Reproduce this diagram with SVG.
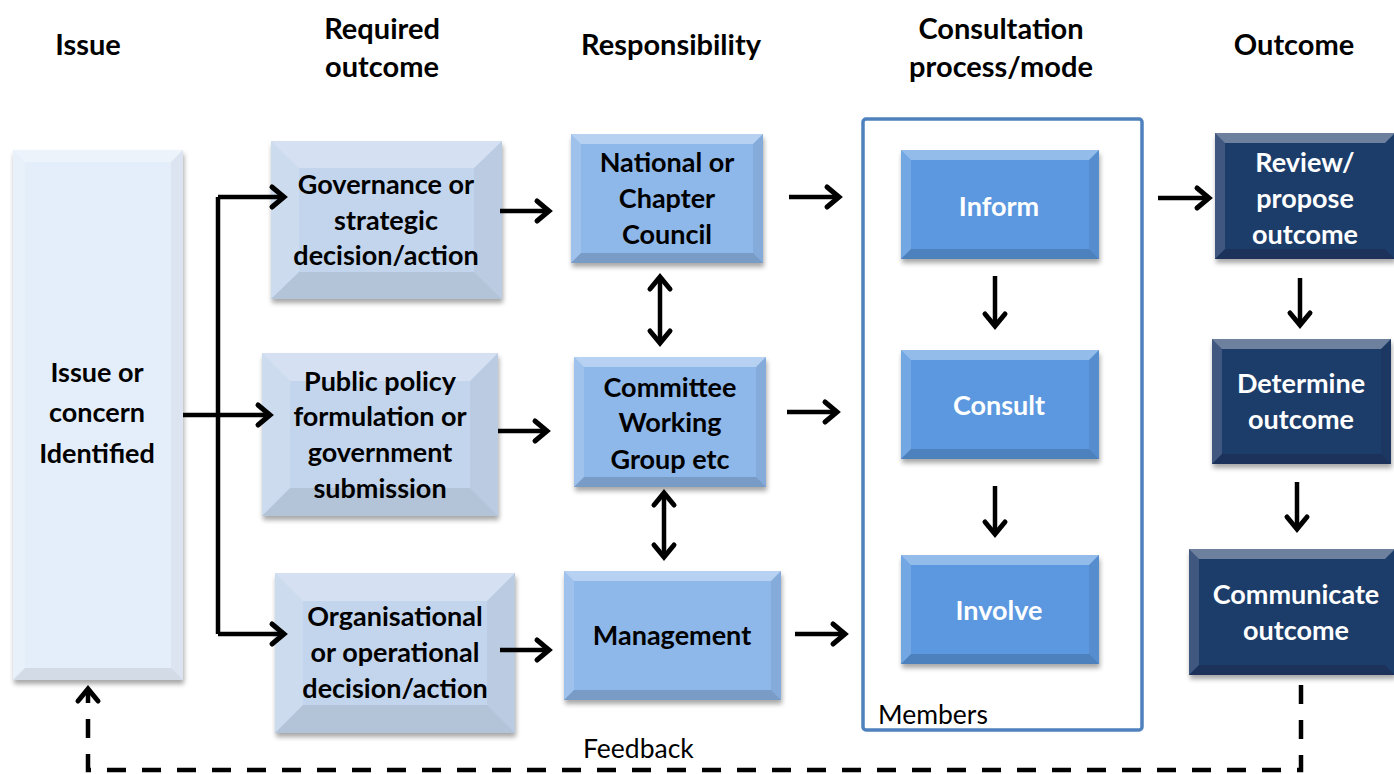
<svg xmlns="http://www.w3.org/2000/svg" width="1394" height="774" viewBox="0 0 1394 774">
<defs>
<style>
.h{font-family:Lato,"Open Sans","Liberation Sans",sans-serif;font-weight:bold;font-size:29px;fill:#000;text-anchor:middle}
.t{font-family:Lato,"Open Sans","Liberation Sans",sans-serif;font-weight:bold;font-size:27px;fill:#000;text-anchor:middle}
.w{fill:#fff}
.r{font-family:Lato,"Open Sans","Liberation Sans",sans-serif;font-size:26.5px;fill:#000}
.c{stroke:#000;stroke-width:4.5;fill:none}
.d{stroke:#000;stroke-width:4.5;fill:none;stroke-dasharray:19,16}
.bt{fill:#fff;opacity:0.35}
.bl{fill:#fff;opacity:0.15}
.br{fill:#000;opacity:0.07}
.bb{fill:#000;opacity:0.15}
.lt .bt{opacity:0.3}
.lt .br{opacity:0.04}
.lt .bb{opacity:0.08}
</style>
<filter id="sh" x="-10%" y="-10%" width="125%" height="125%">
<feGaussianBlur in="SourceAlpha" stdDeviation="2.5"/>
<feOffset dx="1" dy="4" result="o"/>
<feComponentTransfer><feFuncA type="linear" slope="0.35"/></feComponentTransfer>
<feMerge><feMergeNode/><feMergeNode in="SourceGraphic"/></feMerge>
</filter>
<marker id="ah" markerUnits="userSpaceOnUse" markerWidth="30" markerHeight="30" viewBox="-16 -15 20 30" refX="0" refY="0" orient="auto-start-reverse">
<path d="M-12,-10 L0,0 L-12,10" stroke="#000" stroke-width="5" fill="none" stroke-linecap="round" stroke-linejoin="miter"/>
</marker>
</defs>
<rect width="1394" height="774" fill="#fff"/>

<g id="headers">
<text class="h" x="88" y="55">Issue</text>
<text class="h" x="382" y="39">Required</text>
<text class="h" x="382" y="77">outcome</text>
<text class="h" x="671" y="55">Responsibility</text>
<text class="h" x="1001" y="39">Consultation</text>
<text class="h" x="1001" y="77">process/mode</text>
<text class="h" x="1294" y="55">Outcome</text>
</g>

<g id="container">
<rect x="863" y="119" width="279" height="611" rx="3" fill="#fff" stroke="#4f81bd" stroke-width="3.5"/>
<text class="r" x="878" y="724">Members</text>
</g>

<g id="n-issue" class="lt" filter="url(#sh)">
<rect x="13" y="150" width="170" height="530" fill="#e4eefa"/>
<polygon class="bt" points="13,150 183,150 171,162 25,162"/>
<polygon class="bl" points="13,150 25,162 25,668 13,680"/>
<polygon class="br" points="183,150 183,680 171,668 171,162"/>
<polygon class="bb" points="13,680 183,680 171,668 25,668"/>
</g>
<g id="t-issue">
<text class="t" x="97" y="382">Issue or</text>
<text class="t" x="97" y="422">concern</text>
<text class="t" x="97" y="463">Identified</text>
</g>

<g id="n-gov" class="lt" filter="url(#sh)">
<rect x="271" y="141" width="231" height="158" fill="#c3d5ec"/>
<polygon class="bt" points="271,141 502,141 474,168 299,168"/>
<polygon class="bl" points="271,141 299,168 299,272 271,299"/>
<polygon class="br" points="502,141 502,299 474,272 474,168"/>
<polygon class="bb" points="271,299 502,299 474,272 299,272"/>
</g>
<g id="t-gov">
<text class="t" x="386" y="194">Governance or</text>
<text class="t" x="386" y="230">strategic</text>
<text class="t" x="386" y="265">decision/action</text>
</g>

<g id="n-pub" class="lt" filter="url(#sh)">
<rect x="262" y="353" width="236" height="163" fill="#c3d5ec"/>
<polygon class="bt" points="262,353 498,353 470,381 290,381"/>
<polygon class="bl" points="262,353 290,381 290,488 262,516"/>
<polygon class="br" points="498,353 498,516 470,488 470,381"/>
<polygon class="bb" points="262,516 498,516 470,488 290,488"/>
</g>
<g id="t-pub">
<text class="t" x="380" y="391">Public policy</text>
<text class="t" x="380" y="426">formulation or</text>
<text class="t" x="380" y="462">government</text>
<text class="t" x="380" y="498">submission</text>
</g>

<g id="n-org" class="lt" filter="url(#sh)">
<rect x="275" y="573" width="240" height="160" fill="#c3d5ec"/>
<polygon class="bt" points="275,573 515,573 487,601 303,601"/>
<polygon class="bl" points="275,573 303,601 303,705 275,733"/>
<polygon class="br" points="515,573 515,733 487,705 487,601"/>
<polygon class="bb" points="275,733 515,733 487,705 303,705"/>
</g>
<g id="t-org">
<text class="t" x="395" y="626">Organisational</text>
<text class="t" x="395" y="662">or operational</text>
<text class="t" x="395" y="698">decision/action</text>
</g>

<g id="n-nat" filter="url(#sh)">
<rect x="571" y="134" width="192" height="129" fill="#8fb8ea"/>
<polygon class="bt" points="571,134 763,134 753,144 581,144"/>
<polygon class="bl" points="571,134 581,144 581,253 571,263"/>
<polygon class="br" points="763,134 763,263 753,253 753,144"/>
<polygon class="bb" points="571,263 763,263 753,253 581,253"/>
</g>
<g id="t-nat">
<text class="t" x="667" y="172">National or</text>
<text class="t" x="667" y="208">Chapter</text>
<text class="t" x="667" y="244">Council</text>
</g>

<g id="n-com" filter="url(#sh)">
<rect x="574" y="357" width="192" height="130" fill="#8fb8ea"/>
<polygon class="bt" points="574,357 766,357 756,367 584,367"/>
<polygon class="bl" points="574,357 584,367 584,477 574,487"/>
<polygon class="br" points="766,357 766,487 756,477 756,367"/>
<polygon class="bb" points="574,487 766,487 756,477 584,477"/>
</g>
<g id="t-com">
<text class="t" x="670" y="397">Committee</text>
<text class="t" x="670" y="432">Working</text>
<text class="t" x="670" y="469">Group etc</text>
</g>

<g id="n-mgmt" filter="url(#sh)">
<rect x="564" y="571" width="217" height="129" fill="#8fb8ea"/>
<polygon class="bt" points="564,571 781,571 771,581 574,581"/>
<polygon class="bl" points="564,571 574,581 574,690 564,700"/>
<polygon class="br" points="781,571 781,700 771,690 771,581"/>
<polygon class="bb" points="564,700 781,700 771,690 574,690"/>
</g>
<g id="t-mgmt">
<text class="t" x="672" y="645">Management</text>
</g>

<g id="n-inform" filter="url(#sh)">
<rect x="901" y="150" width="198" height="109" fill="#5b98df"/>
<polygon class="bt" points="901,150 1099,150 1089,160 911,160"/>
<polygon class="bl" points="901,150 911,160 911,249 901,259"/>
<polygon class="br" points="1099,150 1099,259 1089,249 1089,160"/>
<polygon class="bb" points="901,259 1099,259 1089,249 911,249"/>
</g>
<text id="t-inform" class="t w" x="999" y="216">Inform</text>

<g id="n-consult" filter="url(#sh)">
<rect x="901" y="350" width="198" height="109" fill="#5b98df"/>
<polygon class="bt" points="901,350 1099,350 1089,360 911,360"/>
<polygon class="bl" points="901,350 911,360 911,449 901,459"/>
<polygon class="br" points="1099,350 1099,459 1089,449 1089,360"/>
<polygon class="bb" points="901,459 1099,459 1089,449 911,449"/>
</g>
<text id="t-consult" class="t w" x="999" y="415">Consult</text>

<g id="n-involve" filter="url(#sh)">
<rect x="901" y="555" width="198" height="109" fill="#5b98df"/>
<polygon class="bt" points="901,555 1099,555 1089,565 911,565"/>
<polygon class="bl" points="901,555 911,565 911,654 901,664"/>
<polygon class="br" points="1099,555 1099,664 1089,654 1089,565"/>
<polygon class="bb" points="901,664 1099,664 1089,654 911,654"/>
</g>
<text id="t-involve" class="t w" x="999" y="620">Involve</text>

<g id="n-review" filter="url(#sh)">
<rect x="1215" y="133" width="180" height="126" fill="#1f3d6a"/>
<polygon class="bt" points="1215,133 1395,133 1385,143 1225,143"/>
<polygon class="bl" points="1215,133 1225,143 1225,249 1215,259"/>
<polygon class="bb" points="1215,259 1395,259 1385,249 1225,249"/>
</g>
<g id="t-review">
<text class="t w" x="1305" y="172">Review/</text>
<text class="t w" x="1305" y="208">propose</text>
<text class="t w" x="1305" y="244">outcome</text>
</g>

<g id="n-determine" filter="url(#sh)">
<rect x="1212" y="339" width="179" height="125" fill="#1f3d6a"/>
<polygon class="bt" points="1212,339 1391,339 1381,349 1222,349"/>
<polygon class="bl" points="1212,339 1222,349 1222,454 1212,464"/>
<polygon class="br" points="1391,339 1391,464 1381,454 1381,349"/>
<polygon class="bb" points="1212,464 1391,464 1381,454 1222,454"/>
</g>
<g id="t-determine">
<text class="t w" x="1301" y="393">Determine</text>
<text class="t w" x="1301" y="429">outcome</text>
</g>

<g id="n-communicate" filter="url(#sh)">
<rect x="1189" y="549" width="206" height="126" fill="#1f3d6a"/>
<polygon class="bt" points="1189,549 1395,549 1385,559 1199,559"/>
<polygon class="bl" points="1189,549 1199,559 1199,665 1189,675"/>
<polygon class="bb" points="1189,675 1395,675 1385,665 1199,665"/>
</g>
<g id="t-communicate">
<text class="t w" x="1296" y="604">Communicate</text>
<text class="t w" x="1296" y="640">outcome</text>
</g>

<g id="connectors">
<path class="c" d="M218,197 L218,634"/>
<path class="c" d="M218,197 L284,197" marker-end="url(#ah)"/>
<path class="c" d="M183,415 L270,415" marker-end="url(#ah)"/>
<path class="c" d="M218,634 L284,634" marker-end="url(#ah)"/>
<path class="c" d="M500,211 L549,211" marker-end="url(#ah)"/>
<path class="c" d="M498,431 L547,431" marker-end="url(#ah)"/>
<path class="c" d="M500,650 L549,650" marker-end="url(#ah)"/>
<path class="c" d="M789,197 L839,197" marker-end="url(#ah)"/>
<path class="c" d="M787,412 L837,412" marker-end="url(#ah)"/>
<path class="c" d="M795,634 L845,634" marker-end="url(#ah)"/>
<path class="c" d="M660,277 L660,343" marker-start="url(#ah)" marker-end="url(#ah)"/>
<path class="c" d="M664,493 L664,557" marker-start="url(#ah)" marker-end="url(#ah)"/>
<path class="c" d="M995,276 L995,326" marker-end="url(#ah)"/>
<path class="c" d="M995,486 L995,534" marker-end="url(#ah)"/>
<path class="c" d="M1158,198 L1209,198" marker-end="url(#ah)"/>
<path class="c" d="M1300,278 L1300,325" marker-end="url(#ah)"/>
<path class="c" d="M1297,482 L1297,529" marker-end="url(#ah)"/>
<path class="d" d="M1301,685 L1301,770 L88,770 L88,689" marker-end="url(#ah)"/>
<text class="r" x="583" y="758">Feedback</text>
</g>
</svg>
